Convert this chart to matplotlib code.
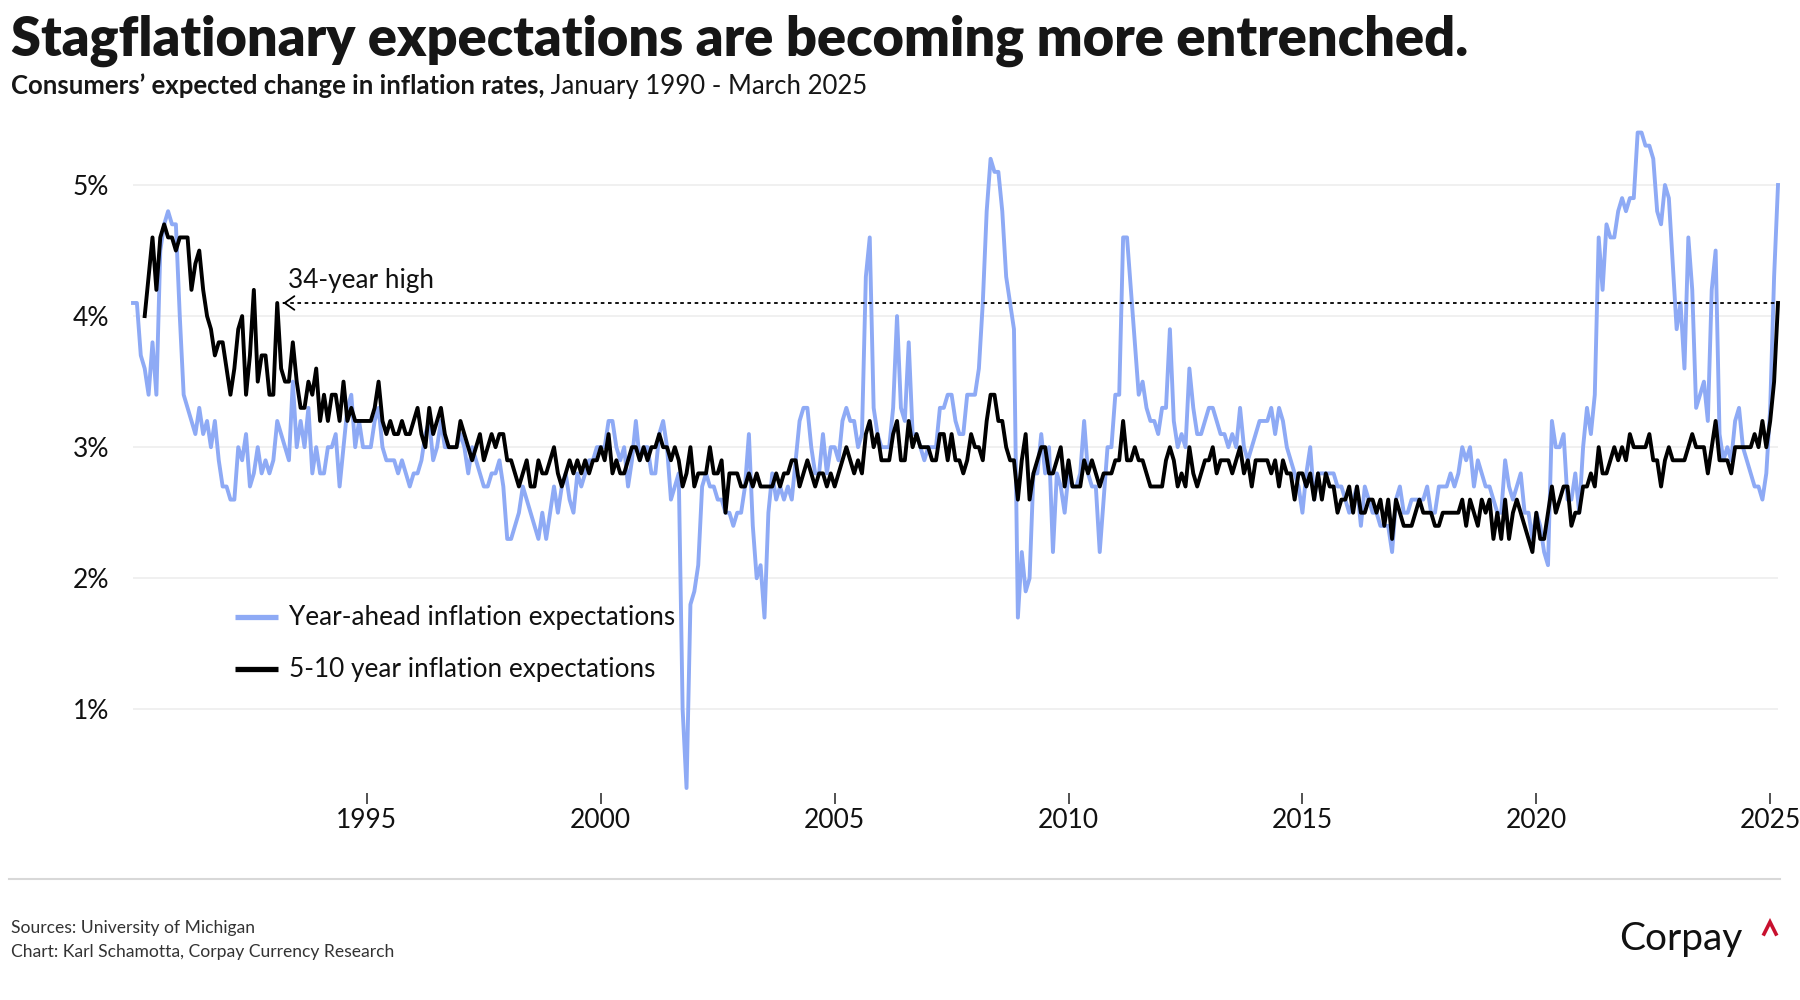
import matplotlib
matplotlib.use("Agg")
import matplotlib.pyplot as plt
from matplotlib.lines import Line2D

# ---- DATA (University of Michigan survey, monthly medians, %) ----
# year-ahead expectations, Jan 1990 - Mar 2025
year_ahead = [
    4.1, 4.1, 3.7, 3.6, 3.4, 3.8, 3.4, 4.5, 4.7, 4.8, 4.7, 4.7,  # 1990
    4.0, 3.4, 3.3, 3.2, 3.1, 3.3, 3.1, 3.2, 3.0, 3.2, 2.9, 2.7,  # 1991
    2.7, 2.6, 2.6, 3.0, 2.9, 3.1, 2.7, 2.8, 3.0, 2.8, 2.9, 2.8,  # 1992
    2.9, 3.2, 3.1, 3.0, 2.9, 3.5, 3.0, 3.2, 3.0, 3.3, 2.8, 3.0,  # 1993
    2.8, 2.8, 3.0, 3.0, 3.1, 2.7, 3.0, 3.3, 3.4, 3.0, 3.2, 3.0,  # 1994
    3.0, 3.0, 3.2, 3.3, 3.0, 2.9, 2.9, 2.9, 2.8, 2.9, 2.8, 2.7,  # 1995
    2.8, 2.8, 2.9, 3.1, 3.2, 2.9, 3.0, 3.2, 3.0, 3.0, 3.0, 3.0,  # 1996
    3.1, 3.0, 2.8, 3.0, 2.9, 2.8, 2.7, 2.7, 2.8, 2.8, 2.9, 2.7,  # 1997
    2.3, 2.3, 2.4, 2.5, 2.7, 2.6, 2.5, 2.4, 2.3, 2.5, 2.3, 2.5,  # 1998
    2.7, 2.5, 2.7, 2.8, 2.6, 2.5, 2.8, 2.7, 2.8, 2.9, 2.9, 3.0,  # 1999
    3.0, 3.0, 3.2, 3.2, 3.0, 2.9, 3.0, 2.7, 2.9, 3.2, 2.9, 3.0,  # 2000
    3.0, 2.8, 2.8, 3.1, 3.2, 3.0, 2.6, 2.7, 2.8, 1.0, 0.4, 1.8,  # 2001
    1.9, 2.1, 2.7, 2.8, 2.7, 2.7, 2.6, 2.6, 2.5, 2.5, 2.4, 2.5,  # 2002
    2.5, 2.7, 3.1, 2.4, 2.0, 2.1, 1.7, 2.5, 2.8, 2.6, 2.7, 2.6,  # 2003
    2.7, 2.6, 2.9, 3.2, 3.3, 3.3, 3.0, 2.8, 2.8, 3.1, 2.8, 3.0,  # 2004
    3.0, 2.9, 3.2, 3.3, 3.2, 3.2, 3.0, 3.1, 4.3, 4.6, 3.3, 3.1,  # 2005
    3.0, 3.0, 3.0, 3.3, 4.0, 3.3, 3.2, 3.8, 3.1, 3.1, 3.0, 2.9,  # 2006
    3.0, 3.0, 3.0, 3.3, 3.3, 3.4, 3.4, 3.2, 3.1, 3.1, 3.4, 3.4,  # 2007
    3.4, 3.6, 4.1, 4.8, 5.2, 5.1, 5.1, 4.8, 4.3, 4.1, 3.9, 1.7,  # 2008
    2.2, 1.9, 2.0, 2.8, 2.8, 3.1, 2.8, 3.0, 2.2, 2.8, 2.7, 2.5,  # 2009
    2.8, 2.7, 2.7, 2.8, 3.2, 2.8, 2.7, 2.7, 2.2, 2.6, 3.0, 3.0,  # 2010
    3.4, 3.4, 4.6, 4.6, 4.2, 3.8, 3.4, 3.5, 3.3, 3.2, 3.2, 3.1,  # 2011
    3.3, 3.3, 3.9, 3.2, 3.0, 3.1, 3.0, 3.6, 3.3, 3.1, 3.1, 3.2,  # 2012
    3.3, 3.3, 3.2, 3.1, 3.1, 3.0, 3.1, 3.0, 3.3, 3.0, 2.9, 3.0,  # 2013
    3.1, 3.2, 3.2, 3.2, 3.3, 3.1, 3.3, 3.2, 3.0, 2.9, 2.8, 2.7,  # 2014
    2.5, 2.8, 3.0, 2.6, 2.8, 2.8, 2.8, 2.8, 2.8, 2.7, 2.7, 2.6,  # 2015
    2.5, 2.6, 2.7, 2.4, 2.7, 2.6, 2.5, 2.5, 2.4, 2.4, 2.4, 2.2,  # 2016
    2.6, 2.7, 2.5, 2.5, 2.6, 2.6, 2.6, 2.6, 2.7, 2.5, 2.5, 2.7,  # 2017
    2.7, 2.7, 2.8, 2.7, 2.8, 3.0, 2.9, 3.0, 2.7, 2.9, 2.8, 2.7,  # 2018
    2.7, 2.6, 2.5, 2.5, 2.9, 2.7, 2.6, 2.7, 2.8, 2.5, 2.5, 2.3,  # 2019
    2.5, 2.4, 2.2, 2.1, 3.2, 3.0, 3.0, 3.1, 2.6, 2.6, 2.8, 2.5,  # 2020
    3.0, 3.3, 3.1, 3.4, 4.6, 4.2, 4.7, 4.6, 4.6, 4.8, 4.9, 4.8,  # 2021
    4.9, 4.9, 5.4, 5.4, 5.3, 5.3, 5.2, 4.8, 4.7, 5.0, 4.9, 4.4,  # 2022
    3.9, 4.1, 3.6, 4.6, 4.2, 3.3, 3.4, 3.5, 3.2, 4.2, 4.5, 3.1,  # 2023
    2.9, 3.0, 2.9, 3.2, 3.3, 3.0, 2.9, 2.8, 2.7, 2.7, 2.6, 2.8,  # 2024
    3.3, 4.3, 5.0,                                               # 2025
]
year_ahead_start = (1990, 1)

# 5-10 year expectations, Apr 1990 - Mar 2025
long_run = [
    4.0, 4.3, 4.6, 4.2, 4.6, 4.7, 4.6, 4.6, 4.5,                # 1990
    4.6, 4.6, 4.6, 4.2, 4.4, 4.5, 4.2, 4.0, 3.9, 3.7, 3.8, 3.8,  # 1991
    3.6, 3.4, 3.6, 3.9, 4.0, 3.4, 3.7, 4.2, 3.5, 3.7, 3.7, 3.4,  # 1992
    3.4, 4.1, 3.6, 3.5, 3.5, 3.8, 3.5, 3.3, 3.3, 3.5, 3.4, 3.6,  # 1993
    3.2, 3.4, 3.2, 3.4, 3.4, 3.2, 3.5, 3.2, 3.3, 3.2, 3.2, 3.2,  # 1994
    3.2, 3.2, 3.3, 3.5, 3.2, 3.1, 3.2, 3.1, 3.1, 3.2, 3.1, 3.1,  # 1995
    3.2, 3.3, 3.1, 3.0, 3.3, 3.1, 3.2, 3.3, 3.1, 3.0, 3.0, 3.0,  # 1996
    3.2, 3.1, 3.0, 2.9, 3.0, 3.1, 2.9, 3.0, 3.1, 3.0, 3.1, 3.1,  # 1997
    2.9, 2.9, 2.8, 2.7, 2.8, 2.9, 2.7, 2.7, 2.9, 2.8, 2.8, 2.9,  # 1998
    3.0, 2.8, 2.7, 2.8, 2.9, 2.8, 2.9, 2.8, 2.9, 2.8, 2.9, 2.9,  # 1999
    3.0, 2.9, 3.1, 2.8, 2.9, 2.8, 2.8, 2.9, 3.0, 3.0, 2.9, 3.0,  # 2000
    2.9, 3.0, 3.0, 3.1, 3.0, 3.0, 2.9, 3.0, 2.9, 2.7, 2.8, 3.0,  # 2001
    2.7, 2.8, 2.8, 2.8, 3.0, 2.8, 2.8, 2.9, 2.5, 2.8, 2.8, 2.8,  # 2002
    2.7, 2.7, 2.8, 2.7, 2.8, 2.7, 2.7, 2.7, 2.7, 2.8, 2.7, 2.8,  # 2003
    2.8, 2.9, 2.9, 2.7, 2.8, 2.9, 2.8, 2.7, 2.8, 2.8, 2.7, 2.8,  # 2004
    2.7, 2.8, 2.9, 3.0, 2.9, 2.8, 2.9, 2.8, 3.1, 3.2, 3.0, 3.1,  # 2005
    2.9, 2.9, 2.9, 3.1, 3.2, 2.9, 2.9, 3.2, 3.0, 3.1, 3.0, 3.0,  # 2006
    3.0, 2.9, 2.9, 3.1, 3.1, 2.9, 3.1, 2.9, 2.9, 2.8, 2.9, 3.1,  # 2007
    3.0, 3.0, 2.9, 3.2, 3.4, 3.4, 3.2, 3.2, 3.0, 2.9, 2.9, 2.6,  # 2008
    2.9, 3.1, 2.6, 2.8, 2.9, 3.0, 3.0, 2.8, 2.8, 2.9, 3.0, 2.7,  # 2009
    2.9, 2.7, 2.7, 2.7, 2.9, 2.8, 2.9, 2.8, 2.7, 2.8, 2.8, 2.8,  # 2010
    2.9, 2.9, 3.2, 2.9, 2.9, 3.0, 2.9, 2.9, 2.8, 2.7, 2.7, 2.7,  # 2011
    2.7, 2.9, 3.0, 2.9, 2.7, 2.8, 2.7, 3.0, 2.8, 2.7, 2.8, 2.9,  # 2012
    2.9, 3.0, 2.8, 2.9, 2.9, 2.9, 2.8, 2.9, 3.0, 2.8, 2.9, 2.7,  # 2013
    2.9, 2.9, 2.9, 2.9, 2.8, 2.9, 2.7, 2.9, 2.8, 2.8, 2.6, 2.8,  # 2014
    2.8, 2.7, 2.8, 2.6, 2.8, 2.6, 2.8, 2.7, 2.7, 2.5, 2.6, 2.6,  # 2015
    2.7, 2.5, 2.7, 2.5, 2.5, 2.6, 2.6, 2.5, 2.6, 2.4, 2.6, 2.3,  # 2016
    2.6, 2.5, 2.4, 2.4, 2.4, 2.5, 2.6, 2.5, 2.5, 2.5, 2.4, 2.4,  # 2017
    2.5, 2.5, 2.5, 2.5, 2.5, 2.6, 2.4, 2.6, 2.5, 2.4, 2.6, 2.5,  # 2018
    2.6, 2.3, 2.5, 2.3, 2.6, 2.3, 2.5, 2.6, 2.5, 2.4, 2.3, 2.2,  # 2019
    2.5, 2.3, 2.3, 2.5, 2.7, 2.5, 2.6, 2.7, 2.7, 2.4, 2.5, 2.5,  # 2020
    2.7, 2.7, 2.8, 2.7, 3.0, 2.8, 2.8, 2.9, 3.0, 2.9, 3.0, 2.9,  # 2021
    3.1, 3.0, 3.0, 3.0, 3.0, 3.1, 2.9, 2.9, 2.7, 2.9, 3.0, 2.9,  # 2022
    2.9, 2.9, 2.9, 3.0, 3.1, 3.0, 3.0, 3.0, 2.8, 3.0, 3.2, 2.9,  # 2023
    2.9, 2.9, 2.8, 3.0, 3.0, 3.0, 3.0, 3.0, 3.1, 3.0, 3.2, 3.0,  # 2024
    3.2, 3.5, 4.1,                                               # 2025
]
long_run_start = (1990, 4)

labels = ["Year-ahead inflation expectations", "5-10 year inflation expectations"]
colors = ["#8eaaf5", "#000000"]
tick_years = [1995, 2000, 2005, 2010, 2015, 2020, 2025]
tick_pcts = [1, 2, 3, 4, 5]
high_value = 4.1          # March 2025 long-run reading
high_date = (1993, 2)     # previous time it was this high

title = "Stagflationary expectations are becoming more entrenched."
subtitle_bold = "Consumers\u2019 expected change in inflation rates,"
subtitle_rest = " January 1990 - March 2025"
source_lines = ["Sources: University of Michigan",
                "Chart: Karl Schamotta, Corpay Currency Research"]


def to_years(start, n):
    y0 = start[0] + (start[1] - 1) / 12
    return [y0 + i / 12 for i in range(n)]


x_ya = to_years(year_ahead_start, len(year_ahead))
x_lr = to_years(long_run_start, len(long_run))
x_high = to_years(high_date, 1)[0]

# ---- FIGURE ----
plt.rcParams['font.family'] = ['Lato', 'DejaVu Sans']
W, H = 1800, 1000
fig = plt.figure(figsize=(W / 100, H / 100), dpi=100)
fig.patch.set_facecolor("white")


def fx(px):
    return px / W


def fy(py):
    return 1 - py / H


ax = fig.add_axes([fx(133), fy(793), fx(1778) - fx(133), fy(126) - fy(793)])
ax.set_xlim(x_ya[0], x_ya[-1])
ax.set_ylim(0.362, 5.45)
for s in ax.spines.values():
    s.set_visible(False)

ax.plot(x_ya, year_ahead, color=colors[0], lw=2.8, clip_on=False, zorder=3)
ax.plot(x_lr, long_run, color=colors[1], lw=2.8, clip_on=False, zorder=4)

ax.set_yticks(tick_pcts)
ax.set_yticklabels([f"{v}%" for v in tick_pcts])
ax.set_xticks(tick_years)
ax.set_xticklabels([str(y) for y in tick_years])
ax.yaxis.grid(True, color="#efefef", lw=1.3, zorder=0)
ax.tick_params(axis="y", length=0, pad=17, labelsize=19, labelcolor="#111111")
ax.tick_params(axis="x", length=8, width=1.1, color="#222222", pad=3,
               labelsize=19, labelcolor="#111111")

# 34-year high marker
tip = x_high + 1.5 / 12
ax.plot([tip, x_lr[-1]], [high_value, high_value], color="black", lw=1.3,
        ls=(0, (2, 2)), zorder=5)
ax.annotate("", xy=(tip, high_value), xytext=(tip + 0.02, high_value),
            arrowprops=dict(arrowstyle="->,head_length=0.5,head_width=0.35",
                            color="black", lw=1.3, mutation_scale=14,
                            shrinkA=0, shrinkB=0), zorder=6)
ax.text(tip + 0.1, 4.214, "34-year high", fontsize=18.8, color="#111111",
        ha="left", va="baseline")

# legend
for lab, col, ly in zip(labels, colors, [617, 669]):
    fig.add_artist(Line2D([fx(235), fx(278)], [fy(ly), fy(ly)], color=col,
                          lw=3.8, solid_capstyle="butt"))
    fig.text(fx(289), fy(ly + 8), lab, fontsize=18.8, color="#111111",
             ha="left", va="baseline")

# titles
fig.text(fx(11), fy(56), title, fontsize=39, fontweight="heavy",
         color="#161616", ha="left", va="baseline")
t1 = fig.text(fx(11), fy(94), subtitle_bold, fontsize=18.5, fontweight="bold",
              color="#161616", ha="left", va="baseline")
fig.canvas.draw()
bb = t1.get_window_extent()
fig.text(bb.x1 / W, fy(94), subtitle_rest, fontsize=18.5, color="#161616",
         ha="left", va="baseline")

# footer
fig.add_artist(Line2D([fx(9), fx(1780)], [fy(879), fy(879)], color="#d8d8d8", lw=1.5))
fig.text(fx(11), fy(933), source_lines[0], fontsize=12.6, color="#333333", va="baseline")
fig.text(fx(11), fy(957), source_lines[1], fontsize=12.6, color="#333333", va="baseline")
fig.text(fx(1619), fy(950), "Corpay", fontsize=28, color="#111111", va="baseline")
fig.add_artist(Line2D([fx(1764), fx(1770), fx(1776)], [fy(934), fy(922), fy(934)],
                      color="#c8102e", lw=2.6, solid_joinstyle="miter"))

fig.savefig("out.png", dpi=100)
